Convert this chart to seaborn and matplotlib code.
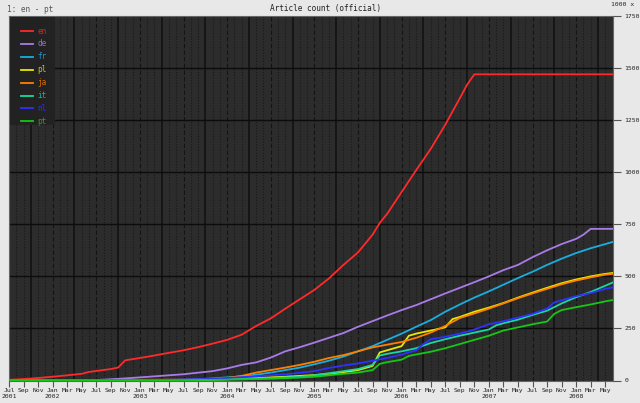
import numpy as np
import pandas as pd
import seaborn as sns
import matplotlib.pyplot as plt
from matplotlib.lines import Line2D
from matplotlib.patches import Rectangle

# Months counted from Jul 2001 (0) ; values in thousands of articles
en_m = [0, 2, 4, 6, 8, 10, 11, 14, 15, 16, 18, 20, 22, 24, 26, 28, 30, 32, 34, 36, 38, 40, 42,
        44, 46, 48, 50, 51, 52, 54, 56, 58, 60, 62, 63, 64, 83]
en_v = [3, 7, 12, 18, 25, 32, 41, 55, 62, 97, 108, 120, 133, 145, 160, 177, 195, 220, 262, 298, 345, 390, 435,
        490, 555, 615, 700, 757, 800, 905, 1010, 1112, 1228, 1355, 1420, 1470, 1470]

de_m = [12, 16, 20, 24, 28, 30, 32, 34, 36, 38, 40, 42, 44, 46, 48, 50, 52, 54, 56, 58, 60, 62, 64,
        66, 68, 70, 72, 74, 76, 78, 79, 80, 83]
de_v = [2, 10, 20, 30, 45, 58, 75, 87, 110, 140, 160, 182, 205, 228, 258, 285, 312, 338, 362, 390, 418, 445, 472,
        500, 530, 555, 592, 625, 655, 680, 700, 728, 728]

fr_m = [24, 28, 30, 32, 34, 36, 38, 40, 42, 44, 46, 48, 50, 52, 54, 56, 58, 60, 62, 64, 66, 68, 70,
        72, 74, 76, 78, 80, 82, 83]
fr_v = [3, 10, 15, 20, 28, 38, 50, 62, 78, 95, 115, 140, 165, 195, 225, 258, 290, 330, 365, 398, 428, 460, 492,
        522, 555, 585, 612, 635, 655, 665]

pl_m = [26, 30, 34, 38, 42, 44, 46, 48, 50, 51, 52, 54, 55, 56, 58, 60, 61, 62, 64, 66, 68, 70, 72,
        74, 76, 78, 80, 82, 83]
pl_v = [2, 6, 12, 18, 26, 32, 40, 50, 70, 135, 145, 165, 215, 225, 240, 255, 295, 305, 330, 350, 372, 398, 422,
        445, 467, 485, 500, 512, 516]

ja_m = [28, 30, 32, 34, 36, 38, 40, 42, 44, 46, 48, 50, 52, 54, 56, 58, 60, 62, 64, 66, 68, 70, 72,
        74, 76, 78, 80, 82, 83]
ja_v = [5, 12, 22, 38, 50, 62, 75, 90, 108, 122, 140, 159, 172, 185, 205, 230, 262, 300, 322, 345, 370, 395, 418,
        440, 462, 480, 495, 508, 512]

it_m = [24, 30, 36, 40, 42, 44, 46, 48, 50, 51, 52, 54, 56, 58, 60, 62, 64, 66, 67, 68, 70, 72, 74,
        76, 78, 80, 82, 83]
it_v = [2, 6, 12, 18, 25, 35, 45, 55, 75, 120, 128, 140, 155, 180, 198, 215, 230, 245, 265, 275, 292, 315, 335,
        370, 400, 425, 455, 470]

nl_m = [20, 24, 28, 30, 32, 34, 36, 38, 40, 42, 44, 46, 48, 50, 52, 54, 56, 57, 58, 60, 62, 64, 66,
        68, 70, 72, 74, 75, 76, 78, 80, 82, 83]
nl_v = [2, 5, 8, 12, 16, 20, 25, 30, 37, 45, 60, 72, 82, 95, 108, 125, 145, 175, 198, 210, 225, 245, 270,
        285, 302, 320, 345, 375, 385, 405, 420, 440, 447]

pt_m = [20, 30, 36, 40, 42, 44, 46, 48, 50, 51, 52, 54, 55, 56, 58, 60, 62, 64, 66, 68, 70, 72, 74,
        75, 76, 78, 80, 82, 83]
pt_v = [1, 4, 8, 14, 18, 25, 32, 38, 50, 80, 88, 100, 118, 125, 138, 155, 175, 195, 215, 240, 255, 270, 283,
        320, 338, 352, 365, 380, 386]

languages = ['en', 'de', 'fr', 'pl', 'ja', 'it', 'nl', 'pt']
colors = ['#ff2a2a', '#a87ce8', '#1aaee0', '#e8e800', '#ff8000', '#1ad6a0', '#3030ff', '#14c814']
text_colors = ['#dd2222', '#9070d8', '#1898c8', '#c8c800', '#dd7000', '#18b890', '#3030e8', '#14b014']

tick_months = ['Jul', 'Sep', 'Nov', 'Jan', 'Mar', 'May']
years = ['2001', '2002', '2003', '2004', '2005', '2006', '2007', '2008']
y_ticks = [0, 250, 500, 750, 1000, 1250, 1500, 1750]

W, H = 640, 403


def armar_tabla():
    series = {
        'en': (en_m, en_v), 'de': (de_m, de_v), 'fr': (fr_m, fr_v), 'pl': (pl_m, pl_v),
        'ja': (ja_m, ja_v), 'it': (it_m, it_v), 'nl': (nl_m, nl_v), 'pt': (pt_m, pt_v),
    }
    filas = []
    for lang in languages:
        m, v = series[lang]
        # antes del primer valor la serie esta en cero
        if m[0] > 0:
            filas.append({'mes': 0, 'valor': 0, 'lang': lang})
        for a, b in zip(m, v):
            filas.append({'mes': a, 'valor': b, 'lang': lang})
    return pd.DataFrame(filas)


def px(x, y):
    # pixeles (desde arriba a la izquierda) -> fraccion de figura
    return x / W, 1 - y / H


def generar_grafico():
    df = armar_tabla()
    mono = 'DejaVu Sans Mono'
    bg = '#e8e8e8'

    fig = plt.figure(figsize=(6.4, 4.03), dpi=100, facecolor=bg)
    l, t = px(9, 16)
    r, b = px(612.5, 380.5)
    ax = fig.add_axes([l, b, r - l, t - b])
    ax.set_facecolor('#2c2c2c')

    # rejilla vertical por mes
    for m in range(1, 83):
        if m % 6 == 3:
            ax.axvline(m, color='#101010', lw=1.1, zorder=1)
        elif m % 6 == 0:
            ax.axvline(m, color='#141414', lw=0.8, ls=(0, (4, 2)), zorder=1)
        else:
            ax.axvline(m, color='#191919', lw=0.8, ls=(0, (1, 1.5)), zorder=1)
    for y in y_ticks[1:-1]:
        ax.axhline(y, color='#0c0c0c', lw=1.0, zorder=1)

    sns.lineplot(data=df, x='mes', y='valor', hue='lang', hue_order=languages,
                 palette=colors, lw=1.3, ax=ax, legend=False, zorder=3, estimator=None)

    ax.set_xlim(0, 83)
    ax.set_ylim(0, 1750)

    # eje x: cada dos meses, con el año debajo
    pos = list(range(0, 83, 2))
    etiquetas = []
    for i, p in enumerate(pos):
        txt = tick_months[i % 6]
        if p == 0:
            txt += '\n' + years[0]
        elif (p - 6) % 12 == 0:
            txt += '\n' + years[(p - 6) // 12 + 1]
        etiquetas.append(txt)
    ax.set_xticks(pos)
    ax.set_xticklabels(etiquetas, fontsize=4.6, family=mono, color='#222222', linespacing=1.25, va='top')
    ax.tick_params(axis='x', length=4, width=0.8, color='#555555', pad=1.5)

    # eje y a la derecha
    ax.yaxis.tick_right()
    ax.set_yticks(y_ticks)
    ax.set_yticklabels([str(v) for v in y_ticks], fontsize=4.6, family=mono, color='#222222')
    ax.tick_params(axis='y', length=6, width=0.8, color='#555555', pad=2.5)
    ax.set_xlabel('')
    ax.set_ylabel('')
    for s in ax.spines.values():
        s.set_color('#666666')
        s.set_linewidth(0.8)

    # textos de cabecera
    fig.text(*px(326, 9), 'Article count (official)', ha='center', va='center',
             fontsize=5.6, family=mono, color='#222222')
    fig.text(*px(7, 10), '1: en - pt', ha='left', va='center',
             fontsize=5.6, family=mono, color='#555555')
    fig.text(*px(634, 5), '1000 x', ha='right', va='center',
             fontsize=4.6, family=mono, color='#222222')

    # leyenda dibujada a mano en un recuadro oscuro
    x0, y0 = px(9.5, 16.5)
    x1, y1 = px(55, 125)
    fig.add_artist(Rectangle((x0, y1), x1 - x0, y0 - y1, transform=fig.transFigure,
                             facecolor='#222222', edgecolor='none', zorder=5))
    for i, lang in enumerate(languages):
        yy = 31 + i * 12.9
        a = px(21, yy)
        c = px(33, yy)
        fig.add_artist(Line2D([a[0], c[0]], [a[1], c[1]], transform=fig.transFigure,
                              color=colors[i], lw=1.3, zorder=6))
        fig.text(*px(37, yy), lang, ha='left', va='center', fontsize=5.6,
                 family=mono, color=text_colors[i], zorder=6)

    plt.savefig('out.png', dpi=100, facecolor=bg)


if __name__ == "__main__":
    generar_grafico()
